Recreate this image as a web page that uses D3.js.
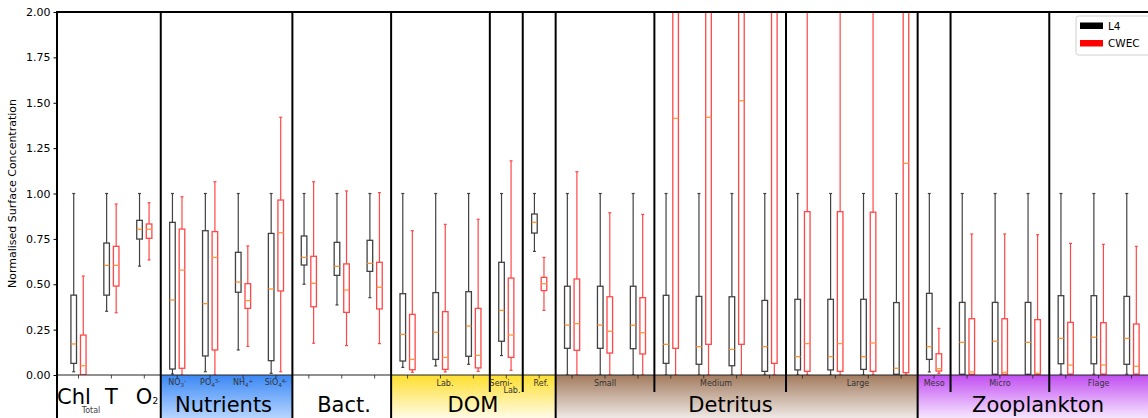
<!DOCTYPE html>
<html>
<head>
<meta charset="utf-8">
<script src="https://cdn.jsdelivr.net/npm/d3@7"></script>
<style>
  body { margin: 0; background: #fff; }
  svg { font-family: 'DejaVu Sans', sans-serif; display: block; }
</style>
</head>
<body>
<svg id="canvas"></svg>
<script>
// one entry per box position (33 of them)
let categories = ['Chl', 'T', 'O2', 'NO3', 'PO4', 'NH4', 'SiO4',
  'Bact1', 'Bact2', 'Bact3', 'Lab1', 'Lab2', 'Lab3', 'Semi-Lab', 'Ref',
  'Small1', 'Small2', 'Small3', 'Medium1', 'Medium2', 'Medium3', 'Medium4',
  'Large1', 'Large2', 'Large3', 'Large4', 'Meso',
  'Micro1', 'Micro2', 'Micro3', 'Flage1', 'Flage2', 'Flage3']

// L4 box stats
let l4Low  = [0.018, 0.351, 0.600, 0.005, 0.018, 0.138, 0.009, 0.500, 0.386, 0.426, 0.042, 0.050, 0.059, 0.107, 0.681,
  0, 0, 0, 0, 0, 0, 0, 0, 0, 0, 0, 0.017, 0, 0, 0, 0.004, 0.004, 0.004]
let l4Q1   = [0.064, 0.440, 0.749, 0.033, 0.105, 0.456, 0.079, 0.606, 0.549, 0.571, 0.077, 0.086, 0.103, 0.186, 0.782,
  0.147, 0.147, 0.145, 0.064, 0.059, 0.051, 0.020, 0.028, 0.028, 0.031, 0.004, 0.086, 0.004, 0.004, 0.004, 0.062, 0.062, 0.059]
let l4Med  = [0.171, 0.604, 0.803, 0.413, 0.393, 0.512, 0.474, 0.648, 0.599, 0.615, 0.224, 0.235, 0.270, 0.356, 0.841,
  0.275, 0.275, 0.274, 0.169, 0.156, 0.141, 0.156, 0.101, 0.101, 0.101, 0.037, 0.156, 0.180, 0.186, 0.180, 0.202, 0.208, 0.202]
let l4Q3   = [0.440, 0.727, 0.852, 0.841, 0.795, 0.676, 0.780, 0.766, 0.731, 0.742, 0.448, 0.454, 0.459, 0.621, 0.887,
  0.489, 0.489, 0.489, 0.439, 0.433, 0.431, 0.411, 0.417, 0.417, 0.417, 0.399, 0.450, 0.400, 0.400, 0.400, 0.437, 0.437, 0.433]
let l4High = [1, 1, 1, 1, 1, 1, 1, 1, 1, 1, 1, 1, 1, 1, 1, 1, 1, 1, 1, 1, 1, 1, 1, 1, 1, 1, 1, 1, 1, 1, 1, 1, 1]

// CWEC box stats (values above 2 run off the top of the axes)
let cwLow  = [0, 0.343, 0.634, 0, 0, 0.158, 0.018, 0.175, 0.162, 0.173, 0.015, 0.017, 0.020, 0.026, 0.356,
  0, 0, 0, 0, 0, 0, 0, 0, 0, 0, 0, 0.009, 0, 0, 0, 0, 0, 0]
let cwQ1   = [0, 0.490, 0.753, 0.037, 0.138, 0.367, 0.463, 0.376, 0.345, 0.364, 0.029, 0.031, 0.039, 0.097, 0.465,
  0.136, 0.121, 0.116, 0.147, 0.169, 0.169, 0.064, 0.020, 0.020, 0.020, 0.013, 0.022, 0.004, 0.004, 0.004, 0.005, 0.005, 0.005]
let cwMed  = [0.051, 0.604, 0.803, 0.578, 0.648, 0.410, 0.784, 0.505, 0.468, 0.483, 0.086, 0.097, 0.108, 0.220, 0.503,
  0.283, 0.241, 0.233, 1.414, 1.420, 1.511, 2.300, 0.173, 0.173, 0.176, 1.166, 0.035, 0.017, 0.015, 0.009, 0.055, 0.055, 0.048]
let cwQ3   = [0.220, 0.709, 0.832, 0.804, 0.790, 0.503, 0.964, 0.654, 0.612, 0.621, 0.334, 0.349, 0.367, 0.534, 0.538,
  0.529, 0.431, 0.426, 2.600, 2.600, 2.700, 3.500, 0.900, 0.900, 0.897, 2.500, 0.117, 0.310, 0.310, 0.305, 0.290, 0.288, 0.281]
let cwHigh = [0.545, 0.942, 0.949, 0.982, 1.065, 0.711, 1.420, 1.065, 1.014, 1.005, 0.795, 0.830, 0.858, 1.180, 0.648,
  1.120, 0.894, 0.885, 4.500, 4.500, 4.600, 5.500, 2.200, 2.200, 2.200, 4.500, 0.257, 0.777, 0.777, 0.773, 0.725, 0.720, 0.709]

let yTicks = [0, 0.25, 0.5, 0.75, 1, 1.25, 1.5, 1.75, 2]

// groups along the bottom: label, first index, last index
let groupNames = ['', 'Nutrients', 'Bact.', 'DOM', 'Detritus', 'Zooplankton']
let groupStart = [0, 3, 7, 10, 15, 26]
let groupEnd   = [2, 6, 9, 14, 25, 32]

// sub groups that get their own divider
let subStart = [10, 13, 14, 15, 18, 22, 26, 27, 30]

let width = 1148
let height = 418
let padLeft = 57
let padTop = 12
let axisY = 375

let canvas = d3.select('#canvas')
  .attr('width', width)
  .attr('height', height)

let xScale = d3.scaleLinear().domain([-0.653, 32.5]).range([padLeft, width])
let yScale = d3.scaleLinear().domain([0, 2]).range([axisY, padTop])

let bandColors = {
  'Nutrients': ['#3b88f5', '#b6d5ff'],
  'DOM': ['#ffdf2e', '#fffbe6'],
  'Detritus': ['#a37b5e', '#efe9e6'],
  'Zooplankton': ['#c24ef2', '#f6e6ff']
}

let defs = canvas.append('defs')
defs.append('clipPath').attr('id', 'plotClip')
  .append('rect')
  .attr('x', padLeft).attr('y', padTop)
  .attr('width', width - padLeft).attr('height', axisY - padTop)

let drawBands = () => {
  groupNames.forEach((name, g) => {
    let cols = bandColors[name]
    if (!cols) return
    let id = 'grad' + g
    let grad = defs.append('linearGradient').attr('id', id)
      .attr('x1', 0).attr('y1', 0).attr('x2', 0).attr('y2', 1)
    grad.append('stop').attr('offset', '0%').attr('stop-color', cols[0])
    grad.append('stop').attr('offset', '100%').attr('stop-color', cols[1])
    let x0 = g == 0 ? padLeft : xScale(groupStart[g] - 0.5)
    let x1 = g == groupNames.length - 1 ? width : xScale(groupEnd[g] + 0.5)
    canvas.append('rect')
      .attr('x', x0).attr('y', axisY)
      .attr('width', x1 - x0).attr('height', height - axisY)
      .attr('fill', `url(#${id})`)
  })
}

let drawBoxes = (lo, q1, med, q3, hi, offset, color, opacity) => {
  let boxW = xScale(0.17) - xScale(0)
  let capW = 3
  let g = canvas.append('g')
    .attr('clip-path', 'url(#plotClip)')
    .attr('opacity', opacity)
  categories.forEach((c, i) => {
    let cx = xScale(i + offset)
    // whiskers
    g.append('line')
      .attr('x1', cx).attr('x2', cx)
      .attr('y1', yScale(q3[i])).attr('y2', yScale(hi[i]))
      .attr('stroke', color).attr('stroke-width', 1.2)
    g.append('line')
      .attr('x1', cx).attr('x2', cx)
      .attr('y1', yScale(q1[i])).attr('y2', yScale(lo[i]))
      .attr('stroke', color).attr('stroke-width', 1.2)
    // caps
    ;[lo[i], hi[i]].forEach(v => {
      g.append('line')
        .attr('x1', cx - capW / 2).attr('x2', cx + capW / 2)
        .attr('y1', yScale(v)).attr('y2', yScale(v))
        .attr('stroke', color).attr('stroke-width', 1.2)
    })
    g.append('rect')
      .attr('x', cx - boxW / 2).attr('y', yScale(q3[i]))
      .attr('width', boxW).attr('height', yScale(q1[i]) - yScale(q3[i]))
      .attr('fill', 'none')
      .attr('stroke', color).attr('stroke-width', 1.3)
    g.append('line')
      .attr('x1', cx - boxW / 2).attr('x2', cx + boxW / 2)
      .attr('y1', yScale(med[i])).attr('y2', yScale(med[i]))
      .attr('stroke', '#ff7f0e').attr('stroke-width', 1.3)
  })
}

let drawAxes = () => {
  let yAxis = d3.axisLeft(yScale)
    .tickValues(yTicks)
    .tickFormat(d3.format('.2f'))
    .tickSize(3.5)
  let ya = canvas.append('g')
    .attr('transform', `translate(${padLeft}, 0)`)
    .call(yAxis)
  ya.select('.domain').remove()
  ya.selectAll('text')
    .attr('font-size', 11).attr('font-family', 'DejaVu Sans')
    .attr('fill', '#000')

  canvas.append('text')
    .attr('transform', `translate(16, ${(padTop + axisY) / 2}) rotate(-90)`)
    .attr('text-anchor', 'middle')
    .attr('font-size', 11)
    .text('Normalised Surface Concentration')

  // bottom axis line + ticks
  canvas.append('line')
    .attr('x1', padLeft).attr('x2', width)
    .attr('y1', axisY).attr('y2', axisY)
    .attr('stroke', '#222').attr('stroke-width', 1)
  canvas.selectAll('.xtick')
    .data(categories)
    .enter()
    .append('line')
    .attr('class', 'xtick')
    .attr('x1', (d, i) => xScale(i)).attr('x2', (d, i) => xScale(i))
    .attr('y1', axisY).attr('y2', axisY + 3.5)
    .attr('stroke', '#222').attr('stroke-width', 0.8)

  // top + left spines
  canvas.append('line')
    .attr('x1', padLeft).attr('x2', width)
    .attr('y1', padTop).attr('y2', padTop)
    .attr('stroke', '#000').attr('stroke-width', 2)
  canvas.append('line')
    .attr('x1', padLeft).attr('x2', padLeft)
    .attr('y1', padTop - 1).attr('y2', height)
    .attr('stroke', '#000').attr('stroke-width', 2)

  // dividers
  groupStart.slice(1).forEach(s => {
    canvas.append('line')
      .attr('x1', xScale(s - 0.5)).attr('x2', xScale(s - 0.5))
      .attr('y1', padTop).attr('y2', height)
      .attr('stroke', '#000').attr('stroke-width', 2)
  })
  subStart.filter(s => !groupStart.includes(s)).forEach(s => {
    canvas.append('line')
      .attr('x1', xScale(s - 0.5)).attr('x2', xScale(s - 0.5))
      .attr('y1', padTop).attr('y2', 392)
      .attr('stroke', '#000').attr('stroke-width', 2)
  })
}

let addText = (x, y, size, parts, color, anchor) => {
  let t = canvas.append('text')
    .attr('x', x).attr('y', y)
    .attr('text-anchor', anchor || 'middle')
    .attr('font-size', size)
    .attr('fill', color || '#000')
  parts.forEach(p => {
    let s = t.append('tspan').text(p[0])
    if (p[1]) s.attr('font-size', p[1])
    if (p[2]) s.attr('baseline-shift', p[2])
  })
  return t
}

let drawLabels = () => {
  // first block
  addText(74, 403.5, 21, [['Chl']])
  addText(xScale(1), 403.5, 21, [['T']])
  addText(147, 403.5, 21, [['O'], ['2', 9]])
  addText(91, 413, 8, [['Total']], '#444')

  // nutrient sub labels
  addText(xScale(3), 385, 8, [['NO'], ['3', 5.5, '-25%'], ['-', 5.5, '40%']], '#333')
  addText(xScale(4), 385, 8, [['PO'], ['4', 5.5, '-25%'], ['3-', 5.5, '40%']], '#333')
  addText(xScale(5), 385, 8, [['NH'], ['4', 5.5, '-25%'], ['+', 5.5, '40%']], '#333')
  addText(xScale(6), 385, 8, [['SiO'], ['4', 5.5, '-25%'], ['4-', 5.5, '40%']], '#333')

  // other sub labels
  addText(445, 385.5, 8, [['Lab.']], '#333')
  addText(501, 385.5, 8, [['Semi-']], '#333')
  addText(512, 392.5, 8, [['Lab.']], '#333')
  addText(541, 385.5, 8, [['Ref.']], '#333')
  addText(xScale(16), 386, 8, [['Small']], '#333')
  addText(716, 386, 8, [['Medium']], '#333')
  addText(858, 386, 8, [['Large']], '#333')
  addText(xScale(26), 386, 8, [['Meso']], '#333')
  addText(xScale(28), 386, 8, [['Micro']], '#333')
  addText(xScale(31), 386, 8, [['Flage']], '#333')

  // group labels
  let groupX = [0, 223.5, 344, 473, 730.5, 1038]
  groupNames.forEach((name, g) => {
    if (name) addText(groupX[g], 412, 21, [[name]])
  })
}

let drawLegend = () => {
  let lg = canvas.append('g')
  lg.append('rect')
    .attr('x', 1076).attr('y', 16)
    .attr('width', 80).attr('height', 39)
    .attr('rx', 2.5)
    .attr('fill', '#fff').attr('fill-opacity', 0.8)
    .attr('stroke', '#d0d0d0')
  let items = [['L4', '#000'], ['CWEC', '#ff0000']]
  items.forEach((it, k) => {
    lg.append('rect')
      .attr('x', 1080).attr('y', 22.5 + k * 17.5)
      .attr('width', 23).attr('height', 6.5)
      .attr('fill', it[1])
    lg.append('text')
      .attr('x', 1108).attr('y', 29.5 + k * 17.5)
      .attr('font-size', 10.5)
      .text(it[0])
  })
}

drawBands()
drawBoxes(l4Low, l4Q1, l4Med, l4Q3, l4High, -0.145, '#222', 0.85)
drawBoxes(cwLow, cwQ1, cwMed, cwQ3, cwHigh, 0.145, '#ff1a1a', 0.8)
drawAxes()
drawLabels()
drawLegend()
</script>
</body>
</html>
